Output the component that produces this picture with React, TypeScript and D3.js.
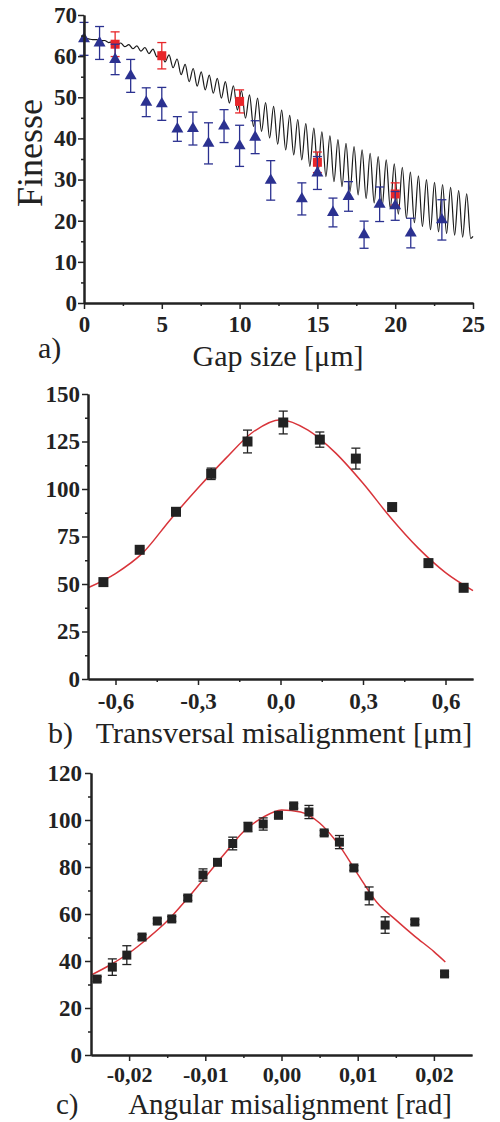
import React, { useEffect, useRef } from 'react';
import * as d3 from 'd3';

// ---- panel a: finesse vs gap ----
const gapBlue = [0, 1, 2, 3, 4, 5, 6, 7, 8, 9, 10, 11, 12, 14, 15, 16, 17, 18, 19, 20, 21, 23];
const finesseBlue = [64.2, 63.2, 59.2, 55.2, 48.8, 48.4, 42.3, 42.4, 38.8, 43.0, 38.2, 40.3, 29.8, 25.3, 31.6, 22.0, 25.9, 16.6, 24.0, 23.6, 17.0, 20.2];
const errBlue = [4, 4, 3.7, 4, 3.5, 4, 3, 4, 5, 4, 5, 4, 4.8, 3.9, 4, 3.5, 3.6, 3.3, 4.2, 3.5, 3.6, 4.9];

const gapRed = [2, 5, 10, 15, 20];
const finesseRed = [62.9, 60.1, 49.0, 34.2, 26.5];
const errRed = [3, 3.2, 2.8, 2.5, 2.7];

// oscillating model curve, read as alternating troughs / peaks
const fitStart = 0.037;
const fitPeriod = 0.517;
const fitTroughs = [
  64.3, 64.0, 63.7, 63.3, 62.8, 62.3, 61.8, 61.2, 60.6, 59.8,
  58.6, 57.2, 55.5, 53.8, 52.7, 51.8, 51.0, 49.8, 48.6, 46.9,
  44.9, 42.9, 41.7, 40.1, 38.6, 37.2, 36.0, 34.8, 33.2, 31.6,
  30.7, 29.5, 28.3, 27.1, 26.3, 25.4, 24.3, 23.6, 23.0, 21.6,
  20.6, 19.5, 18.6, 17.8, 17.3, 16.9, 16.5, 16.0, 15.7,
];
const fitPeaks = [
  64.2, 64.0, 63.8, 63.5, 63.2, 62.8, 62.5, 62.1, 61.7, 61.1,
  60.3, 59.3, 58.0, 57.0, 56.2, 55.4, 54.6, 53.8, 52.8, 51.6,
  50.6, 49.8, 48.7, 47.8, 46.9, 45.6, 44.6, 43.6, 42.5, 41.6,
  40.6, 39.7, 38.8, 38.0, 37.2, 36.4, 35.6, 34.8, 33.8, 33.0,
  31.8, 30.9, 30.0, 29.3, 28.8, 28.1, 27.3, 26.5,
];
const fitEnd = [25, 16.2];

// ---- panel b: transversal misalignment ----
const transX = [-0.644, -0.512, -0.38, -0.252, -0.12, 0.01, 0.143, 0.274, 0.406, 0.538, 0.666];
const transY = [51, 68, 88, 108, 125, 135, 126, 116, 90.5, 61, 48];
const transErr = [0, 1, 1, 3, 6, 6, 4, 5.5, 1, 1, 1];
const transFitX = [-0.7, -0.6, -0.5, -0.4, -0.3, -0.2, -0.1, 0, 0.1, 0.2, 0.3, 0.4, 0.5, 0.6, 0.7];
const transFitY = [48, 55.5, 66.5, 84, 100.5, 116, 130, 136.5, 131, 119, 103, 85, 69, 56, 46.5];

// ---- panel c: angular misalignment ----
const angX = [-0.0242, -0.0222, -0.0203, -0.0183, -0.0163, -0.0144, -0.0123, -0.0103, -0.0084, -0.0064, -0.0044,
  -0.0024, -0.0004, 0.0016, 0.0036, 0.0056, 0.0076, 0.0095, 0.0115, 0.0136, 0.0175, 0.0214];
const angY = [32.3, 37.4, 42.5, 50.2, 57, 57.9, 66.8, 76.6, 82, 90, 97,
  98.3, 102, 106, 103.4, 94.5, 90.6, 79.6, 67.7, 55.3, 56.6, 34.5];
const angErr = [1, 3.5, 4, 1, 1, 1, 1, 2.6, 1, 2.7, 2, 2.6, 1, 1, 2.8, 1, 2.8, 1, 3.8, 3.5, 1, 1];
const angFitX = [-0.025, -0.0225, -0.02, -0.0175, -0.015, -0.0125, -0.01, -0.0075, -0.005, -0.0025, 0,
  0.0025, 0.005, 0.0075, 0.01, 0.0125, 0.015, 0.0175, 0.02, 0.0215];
const angFitY = [34, 38.3, 43.4, 49.8, 57, 66, 75.7, 85.5, 95, 101, 104.3,
  103.4, 98.7, 89.5, 77, 65, 57.5, 50.5, 44, 39.6];

const FONT = "'Liberation Serif', 'Times New Roman', serif";
const INK = '#222';

const comma = (digits: number) => (d: any) =>
  d3.format(`.${digits}f`)(d).replace('.', ',').replace('\u2212', '-');

function drawAxes(g: any, x: any, y: any, o: any) {
  const styleAxis = (size: number) => (a: any) => {
    a.select('.domain').attr('stroke', INK).attr('stroke-width', 2);
    a.selectAll('.tick line').attr('stroke', INK).attr('stroke-width', 1.5);
    a.selectAll('text')
      .attr('font-family', FONT)
      .attr('font-weight', 'bold')
      .attr('font-size', size)
      .attr('fill', INK);
  };
  const y0 = y.range()[0];
  const x0 = x.range()[0];
  const xs = o.xSize || 23;

  g.append('g').attr('transform', `translate(0,${y0})`)
    .call(d3.axisBottom(x).tickValues(o.xMinor).tickSize(3).tickSizeOuter(0).tickFormat(() => ''))
    .call(styleAxis(xs));
  g.append('g').attr('transform', `translate(${x0},0)`)
    .call(d3.axisLeft(y).tickValues(o.yMinor).tickSize(3).tickSizeOuter(0).tickFormat(() => ''))
    .call(styleAxis(23));
  g.append('g').attr('transform', `translate(0,${y0})`)
    .call(d3.axisBottom(x).tickValues(o.xMajor).tickSize(6).tickSizeOuter(0).tickPadding(o.xPad).tickFormat(o.xFmt))
    .call(styleAxis(xs));
  g.append('g').attr('transform', `translate(${x0},0)`)
    .call(d3.axisLeft(y).tickValues(o.yMajor).tickSize(6).tickSizeOuter(0).tickPadding(o.yPad).tickFormat(o.yFmt))
    .call(styleAxis(23));
}

function errorBars(g: any, xs: number[], ys: number[], es: number[], x: any, y: any, color: string) {
  xs.forEach((xv, i) => {
    if (!es[i]) return;
    const cx = x(xv);
    const top = y(ys[i] + es[i]);
    const bot = y(ys[i] - es[i]);
    g.append('line').attr('x1', cx).attr('x2', cx).attr('y1', top).attr('y2', bot)
      .attr('stroke', color).attr('stroke-width', 1.3);
    [top, bot].forEach((yy) => {
      g.append('line').attr('x1', cx - 4.5).attr('x2', cx + 4.5).attr('y1', yy).attr('y2', yy)
        .attr('stroke', color).attr('stroke-width', 1.3);
    });
  });
}

function squares(g: any, xs: number[], ys: number[], x: any, y: any, color: string, size: number) {
  xs.forEach((xv, i) => {
    g.append('rect')
      .attr('x', x(xv) - size / 2).attr('y', y(ys[i]) - size / 2)
      .attr('width', size).attr('height', size)
      .attr('fill', color);
  });
}

function label(svg: any, text: string, x: number, y: number, size: number, anchor = 'start') {
  svg.append('text').attr('x', x).attr('y', y)
    .attr('font-family', FONT).attr('font-size', size).attr('fill', INK)
    .attr('text-anchor', anchor).text(text);
}

export default function App() {
  const ref = useRef<SVGSVGElement>(null);

  useEffect(() => {
    if (!ref.current) return;
    const svg = d3.select(ref.current);
    svg.selectAll('*').remove();

    // ---------- a) ----------
    const xa = d3.scaleLinear().domain([0, 25]).range([84, 473]);
    const ya = d3.scaleLinear().domain([0, 70]).range([303, 15]);
    const ga = svg.append('g');

    const fitPts: [number, number][] = [];
    fitTroughs.forEach((t, k) => {
      fitPts.push([fitStart + k * fitPeriod, t]);
      if (k < fitPeaks.length) fitPts.push([fitStart + (k + 0.5) * fitPeriod, fitPeaks[k]]);
    });
    fitPts.push(fitEnd as [number, number]);
    ga.append('path')
      .datum(fitPts)
      .attr('fill', 'none').attr('stroke', '#1a1a1a').attr('stroke-width', 1.2)
      .attr('d', d3.line().curve(d3.curveMonotoneX).x((d: any) => xa(d[0])).y((d: any) => ya(d[1])) as any);

    errorBars(ga, gapRed, finesseRed, errRed, xa, ya, '#e8262a');
    squares(ga, gapRed, finesseRed, xa, ya, '#e8262a', 9);
    errorBars(ga, gapBlue, finesseBlue, errBlue, xa, ya, '#2b3190');
    const tri = d3.symbol().type(d3.symbolTriangle).size(62);
    gapBlue.forEach((gv, i) => {
      ga.append('path')
        .attr('d', tri() as string)
        .attr('transform', `translate(${xa(gv)},${ya(finesseBlue[i])})`)
        .attr('fill', '#2b3190');
    });

    drawAxes(ga, xa, ya, {
      xMajor: [0, 5, 10, 15, 20, 25], xMinor: [2.5, 7.5, 12.5, 17.5, 22.5],
      yMajor: [0, 10, 20, 30, 40, 50, 60, 70], yMinor: [5, 15, 25, 35, 45, 55, 65],
      xFmt: d3.format('d'), yFmt: d3.format('d'), xPad: 7, yPad: 1,
    });

    svg.append('text')
      .attr('transform', 'translate(42,153) rotate(-90)')
      .attr('font-family', FONT).attr('font-size', 36).attr('fill', INK)
      .attr('text-anchor', 'middle').text('Finesse');
    label(svg, 'a)', 38, 358, 30);
    label(svg, 'Gap size [\u03bcm]', 278, 366, 30, 'middle');

    // ---------- b) ----------
    const xb = d3.scaleLinear().domain([-0.7, 0.7]).range([88, 473]);
    const yb = d3.scaleLinear().domain([0, 150]).range([679, 394]);
    const gb = svg.append('g');

    gb.append('path')
      .datum(transFitX.map((v, i) => [v, transFitY[i]]))
      .attr('fill', 'none').attr('stroke', '#d8343a').attr('stroke-width', 1.5)
      .attr('d', d3.line().curve(d3.curveMonotoneX).x((d: any) => xb(d[0])).y((d: any) => yb(d[1])) as any);
    errorBars(gb, transX, transY, transErr, xb, yb, INK);
    squares(gb, transX, transY, xb, yb, INK, 10);

    drawAxes(gb, xb, yb, {
      xMajor: [-0.6, -0.3, 0, 0.3, 0.6], xMinor: [-0.45, -0.15, 0.15, 0.45],
      yMajor: [0, 25, 50, 75, 100, 125, 150], yMinor: [12.5, 37.5, 62.5, 87.5, 112.5, 137.5],
      xFmt: comma(1), yFmt: d3.format('d'), xPad: 8, yPad: 2,
    });
    label(svg, 'b)', 48, 743, 30);
    label(svg, 'Transversal misalignment [\u03bcm]', 284, 743, 30, 'middle');

    // ---------- c) ----------
    const xc = d3.scaleLinear().domain([-0.025, 0.025]).range([91, 472]);
    const yc = d3.scaleLinear().domain([0, 120]).range([1055, 773]);
    const gc = svg.append('g');

    gc.append('path')
      .datum(angFitX.map((v, i) => [v, angFitY[i]]))
      .attr('fill', 'none').attr('stroke', '#d8343a').attr('stroke-width', 1.5)
      .attr('d', d3.line().curve(d3.curveMonotoneX).x((d: any) => xc(d[0])).y((d: any) => yc(d[1])) as any);
    errorBars(gc, angX, angY, angErr, xc, yc, INK);
    squares(gc, angX, angY, xc, yc, INK, 9);

    drawAxes(gc, xc, yc, {
      xMajor: [-0.02, -0.01, 0, 0.01, 0.02], xMinor: [-0.015, -0.005, 0.005, 0.015],
      yMajor: [0, 20, 40, 60, 80, 100, 120], yMinor: [10, 30, 50, 70, 90, 110],
      xFmt: comma(2), yFmt: d3.format('d'), xPad: 5, yPad: 3, xSize: 22,
    });
    label(svg, 'c)', 56, 1114, 29);
    label(svg, 'Angular misalignment [rad]', 290, 1114, 29, 'middle');
  }, []);

  return (
    <svg
      ref={ref}
      width={500}
      height={1122}
      style={{ position: 'absolute', left: 0, top: 0, background: '#fff' }}
    />
  );
}
